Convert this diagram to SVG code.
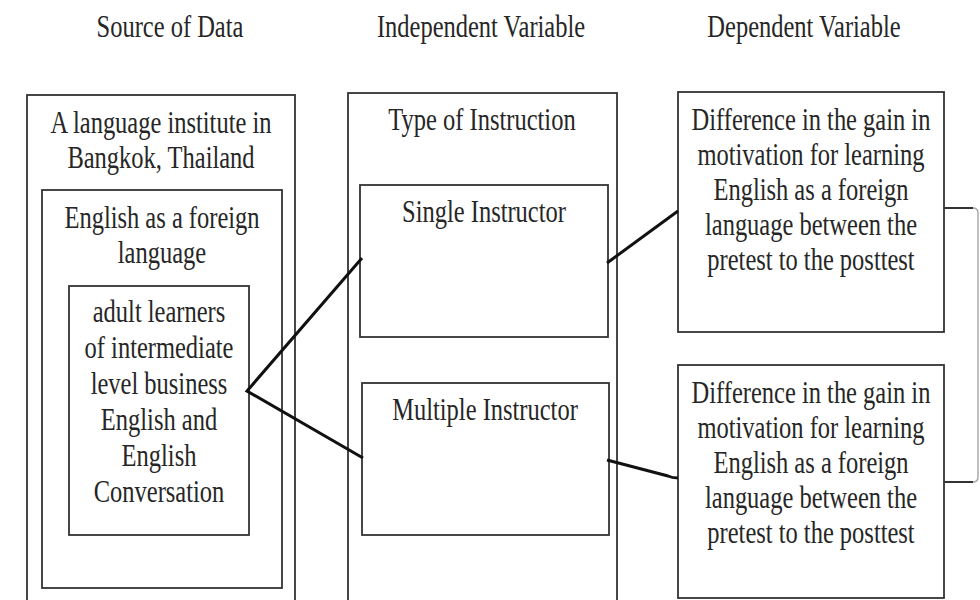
<svg xmlns="http://www.w3.org/2000/svg" width="980" height="600" viewBox="0 0 980 600">
<style>
.box{fill:none;stroke:#333;stroke-width:1.8}
.t{font-family:"Liberation Serif","Times New Roman",serif;font-size:31px;fill:#262626;text-anchor:middle}
.c{fill:none;stroke:#111;stroke-width:3;stroke-linejoin:miter}
</style>
<rect width="980" height="600" fill="#fff"/>
<g id="headers">
<text class="t" transform="translate(170 0) scale(0.79 1)" x="0" y="37">Source of Data</text>
<text class="t" transform="translate(481 0) scale(0.79 1)" x="0" y="37">Independent Variable</text>
<text class="t" transform="translate(804 0) scale(0.79 1)" x="0" y="37">Dependent Variable</text>
</g>
<g id="source-institute">
<rect class="box" x="27" y="95" width="268" height="515"/>
<text class="t" transform="translate(161 0) scale(0.79 1)" x="0" y="133">A language institute in</text>
<text class="t" transform="translate(161 0) scale(0.79 1)" x="0" y="168">Bangkok, Thailand</text>
</g>
<g id="source-efl">
<rect class="box" x="42" y="190" width="240" height="398"/>
<text class="t" transform="translate(162 0) scale(0.79 1)" x="0" y="228">English as a foreign</text>
<text class="t" transform="translate(162 0) scale(0.79 1)" x="0" y="263">language</text>
</g>
<g id="source-learners">
<rect class="box" x="69" y="286" width="180" height="249"/>
<text class="t" transform="translate(159 0) scale(0.79 1)" x="0" y="322">adult learners</text>
<text class="t" transform="translate(159 0) scale(0.79 1)" x="0" y="358">of intermediate</text>
<text class="t" transform="translate(159 0) scale(0.79 1)" x="0" y="394">level business</text>
<text class="t" transform="translate(159 0) scale(0.79 1)" x="0" y="430">English and</text>
<text class="t" transform="translate(159 0) scale(0.79 1)" x="0" y="466">English</text>
<text class="t" transform="translate(159 0) scale(0.79 1)" x="0" y="502">Conversation</text>
</g>
<g id="type-of-instruction">
<rect class="box" x="348" y="93" width="269" height="517"/>
<text class="t" transform="translate(482 0) scale(0.79 1)" x="0" y="130">Type of Instruction</text>
</g>
<g id="single-instructor">
<rect class="box" x="360" y="185" width="248" height="152"/>
<text class="t" transform="translate(484 0) scale(0.79 1)" x="0" y="222">Single Instructor</text>
</g>
<g id="multiple-instructor">
<rect class="box" x="362" y="383" width="247" height="152"/>
<text class="t" transform="translate(485 0) scale(0.79 1)" x="0" y="420">Multiple Instructor</text>
</g>
<g id="dependent-1">
<rect class="box" x="678" y="92" width="266" height="240"/>
<text class="t" transform="translate(811 0) scale(0.79 1)" x="0" y="130">Difference in the gain in</text>
<text class="t" transform="translate(811 0) scale(0.79 1)" x="0" y="165">motivation for learning</text>
<text class="t" transform="translate(811 0) scale(0.79 1)" x="0" y="200">English as a foreign</text>
<text class="t" transform="translate(811 0) scale(0.79 1)" x="0" y="235">language between the</text>
<text class="t" transform="translate(811 0) scale(0.79 1)" x="0" y="270">pretest to the posttest</text>
</g>
<g id="dependent-2">
<rect class="box" x="678" y="365" width="266" height="233"/>
<text class="t" transform="translate(811 0) scale(0.79 1)" x="0" y="403">Difference in the gain in</text>
<text class="t" transform="translate(811 0) scale(0.79 1)" x="0" y="438">motivation for learning</text>
<text class="t" transform="translate(811 0) scale(0.79 1)" x="0" y="473">English as a foreign</text>
<text class="t" transform="translate(811 0) scale(0.79 1)" x="0" y="508">language between the</text>
<text class="t" transform="translate(811 0) scale(0.79 1)" x="0" y="543">pretest to the posttest</text>
</g>
<g id="connectors">
<path class="c" d="M362,258 L247,391 L363,458"/>
<path class="c" d="M607,263 L678,211"/>
<path class="c" d="M607,460 L668,476 Q672,478 678,478"/>
<path d="M944,208 H973" fill="none" stroke="#333" stroke-width="2"/>
<path d="M944,482 H973" fill="none" stroke="#333" stroke-width="2"/>
<path d="M973,208 Q978,208 978,213 V477 Q978,482 973,482" fill="none" stroke="#aaa" stroke-width="1.5"/>
</g>
</svg>
